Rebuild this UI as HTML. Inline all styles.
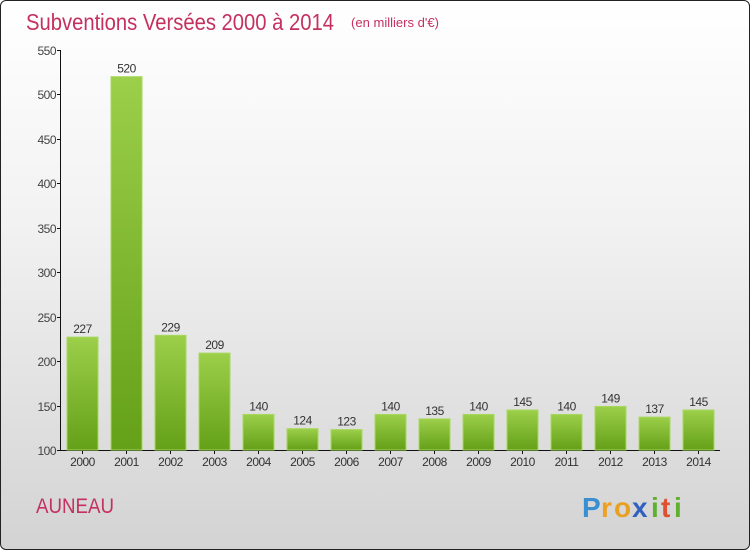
<!DOCTYPE html>
<html><head><meta charset="utf-8"><style>
html,body{margin:0;padding:0;}
body{width:750px;height:550px;overflow:hidden;font-family:"Liberation Sans",sans-serif;}
#wrap{position:absolute;left:0;top:0;width:748px;height:548px;border:1px solid #222;border-radius:6px;background:linear-gradient(#ffffff 0%,#f2f2f2 40%,#d3d3d3 100%);overflow:hidden;}
</style></head><body>
<div id="wrap">
<svg id="chart" width="750" height="550" style="position:absolute;left:-1px;top:-1px">
<defs>
<linearGradient id="bg" x1="0" y1="0" x2="0" y2="1"><stop offset="0" stop-color="#9ccf4a"/><stop offset="1" stop-color="#64a018"/></linearGradient>
</defs>
<text x="26" y="30" font-size="23" fill="#c4305f" textLength="308" lengthAdjust="spacingAndGlyphs">Subventions Versées 2000 à 2014</text>
<text x="351" y="27" font-size="13" fill="#c4305f" textLength="88" lengthAdjust="spacingAndGlyphs">(en milliers d'€)</text>
<text x="36" y="513" font-size="21" fill="#c4305f" textLength="78" lengthAdjust="spacingAndGlyphs">AUNEAU</text>
<g font-size="28" font-weight="bold">
<text x="582" y="517" fill="#3a8fd0">P</text><text x="601" y="517" fill="#f0a020">r</text><text x="614" y="517" fill="#e8a020">o</text><text x="632" y="517" fill="#3060c0">x</text><text x="651" y="517" fill="#60b030">i</text><text x="661" y="517" fill="#e05030">t</text><text x="674" y="517" fill="#60b030">i</text>
</g>
<g id="axes"></g>
<g id="bars"></g>
</svg>
</div>
<script>
const years=["2000","2001","2002","2003","2004","2005","2006","2007","2008","2009","2010","2011","2012","2013","2014"];
const values=[227,520,229,209,140,124,123,140,135,140,145,140,149,137,145];
const yTicks=[100,150,200,250,300,350,400,450,500,550];
const ns="http://www.w3.org/2000/svg";
const y0=450,yMin=100,yMax=550,yTop=50;
function yScale(v){return y0-(v-yMin)*(y0-yTop)/(yMax-yMin);}
function xCenter(i){return 82.5+44*i;}
const axes=document.getElementById('axes'),bars=document.getElementById('bars');
function mk(tag,attrs,parent){const e=document.createElementNS(ns,tag);for(const k in attrs)e.setAttribute(k,attrs[k]);parent.appendChild(e);return e;}
const ya=mk('line',{x1:60.5,y1:yTop,x2:60.5,y2:y0+0.5,stroke:'#111','stroke-width':1},axes);


const xa=mk('line',{x1:60,y1:y0+0.5,x2:720,y2:y0+0.5,stroke:'#111','stroke-width':1},axes);


yTicks.forEach(t=>{
 const y=Math.round(yScale(t))+0.5;
 mk('line',{x1:57,y1:y,x2:61,y2:y,stroke:'#111'},axes);
 const tx=mk('text',{x:56,y:y+4.5,'text-anchor':'end','font-size':12,fill:'#444','letter-spacing':'-0.5'},axes);
 tx.textContent=t;
 
 
});
years.forEach((yr,i)=>{
 const cx=xCenter(i),v=values[i],yt=yScale(v);
 const r=mk('rect',{x:cx-15.5,y:yt,width:31,height:y0-yt,fill:'url(#bg)',stroke:'#a8d860','stroke-width':1},bars);
 
 
 const lb=mk('text',{x:cx,y:yt-4,'text-anchor':'middle','font-size':12,fill:'#333','letter-spacing':'-0.5'},bars);
 lb.textContent=v;
 
 
 mk('line',{x1:cx,y1:y0,x2:cx,y2:y0+4,stroke:'#111'},axes);
 const xl=mk('text',{x:cx,y:466,'text-anchor':'middle','font-size':12,fill:'#333','letter-spacing':'-0.5'},axes);
 xl.textContent=yr;
 
 
});
</script>
</body></html>
